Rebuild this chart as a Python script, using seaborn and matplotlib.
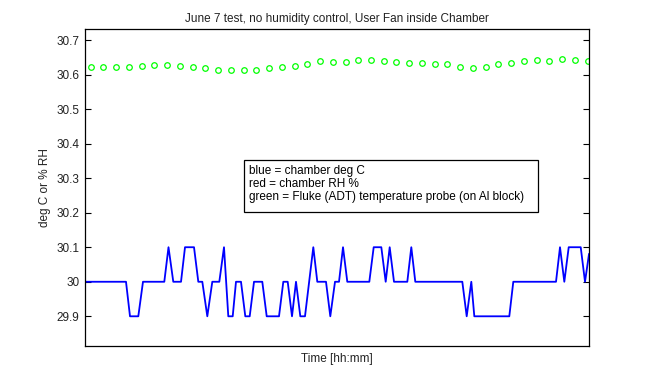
import matplotlib
matplotlib.use("Agg")
import matplotlib.pyplot as plt
import seaborn as sns
import pandas as pd
from matplotlib.patches import Rectangle

# ---- data ----
# chamber temperature (blue), piecewise samples: time [min], value [deg C]
blue_t = [0.0, 16.09, 17.66, 20.92, 22.76, 31.12, 32.77, 34.65, 37.68, 39.25,
          42.78, 44.47, 46.04, 48.0, 49.96, 52.71, 54.55, 56.24, 57.97, 59.26,
          61.22, 62.91, 64.64, 66.33, 69.58, 71.31, 76.14, 77.83, 79.55, 81.24,
          82.81, 84.50, 86.34, 89.60, 91.17, 94.58, 96.27, 98.12, 99.69, 101.26,
          102.94, 111.58, 113.30, 116.29, 118.01, 119.58, 121.27, 126.49, 128.06, 129.63,
          148.08, 149.80, 151.61, 152.79, 166.52, 168.09, 184.85, 186.42, 188.11, 189.84,
          194.55, 196.23, 197.80]
blue_v = [30.0, 30.0, 29.9, 29.9, 30.0, 30.0, 30.1, 30.0, 30.0, 30.1,
          30.1, 30.0, 30.0, 29.9, 30.0, 30.0, 30.1, 29.9, 29.9, 30.0,
          30.0, 29.9, 29.9, 30.0, 30.0, 29.9, 29.9, 30.0, 30.0, 29.9,
          30.0, 29.9, 29.9, 30.1, 30.0, 30.0, 29.9, 30.0, 30.0, 30.1,
          30.0, 30.0, 30.1, 30.1, 30.0, 30.1, 30.0, 30.0, 30.1, 30.0,
          30.0, 29.9, 30.0, 29.9, 29.9, 30.0, 30.0, 30.1, 30.0, 30.1,
          30.1, 30.0, 30.08]

# Fluke probe temperature (green), every 5 min
green_t = [2.24 + 5 * i for i in range(40)]
green_v = [30.621, 30.623, 30.621, 30.621, 30.626, 30.627, 30.628, 30.626, 30.621, 30.618,
           30.612, 30.614, 30.614, 30.614, 30.618, 30.621, 30.626, 30.630, 30.639, 30.635,
           30.637, 30.642, 30.642, 30.640, 30.635, 30.634, 30.634, 30.630, 30.630, 30.621,
           30.619, 30.622, 30.630, 30.634, 30.640, 30.642, 30.640, 30.644, 30.642, 30.639]

y_ticks = [29.9, 30.0, 30.1, 30.2, 30.3, 30.4, 30.5, 30.6, 30.7]
y_labels = ["29.9", "30", "30.1", "30.2", "30.3", "30.4", "30.5", "30.6", "30.7"]
legend_lines = ["blue = chamber deg C",
                "red = chamber RH %",
                "green = Fluke (ADT) temperature probe (on Al block)"]

title = "June 7 test, no humidity control, User Fan inside Chamber"

# ---- plot ----
plt.rcParams['font.family'] = ['Liberation Sans', 'DejaVu Sans']
FS = 8.5
fig = plt.figure(figsize=(6.51, 3.90), dpi=100)
ax = fig.add_axes([85/651, 1-346/390, 504/651, (346-29.3)/390])

blue_df = pd.DataFrame({"t": blue_t, "v": blue_v})
green_df = pd.DataFrame({"t": green_t, "v": green_v})

sns.lineplot(data=blue_df, x="t", y="v", ax=ax, color="#0000ff", lw=1.3,
             estimator=None, sort=False)
sns.lineplot(data=green_df, x="t", y="v", ax=ax, color="#00ff00", linestyle="none",
             marker="o", markersize=4, markerfacecolor="none",
             markeredgecolor="#00ff00", markeredgewidth=0.9,
             estimator=None, sort=False)

ax.set_xlim(0, 197.8)
ax.set_ylim(29.814, 30.731)
ax.set_xticks([])
ax.set_yticks(y_ticks)
ax.set_yticklabels(y_labels)
ax.tick_params(axis='y', direction='in', length=4, width=0.8, right=True,
               labelsize=FS, labelcolor='#222222', pad=4)
for s in ax.spines.values():
    s.set_linewidth(0.9)
    s.set_color('black')

ax.set_title(title, fontsize=FS, pad=5, color='#222222')
ax.set_xlabel("Time [hh:mm]", fontsize=FS, labelpad=5, color='#222222')
ax.set_ylabel("deg C or % RH", fontsize=FS, labelpad=4, color='#222222')

ax.add_patch(Rectangle((0.3155, 0.4222), 0.5827, 0.1661, transform=ax.transAxes,
                       fc='white', ec='black', lw=0.9, zorder=5))
for txt, yy in zip(legend_lines, [0.5535, 0.5115, 0.4703]):
    ax.text(0.326, yy, txt, transform=ax.transAxes, fontsize=FS, va='center',
            ha='left', color='black', zorder=6)

fig.savefig("out.png", dpi=100)
